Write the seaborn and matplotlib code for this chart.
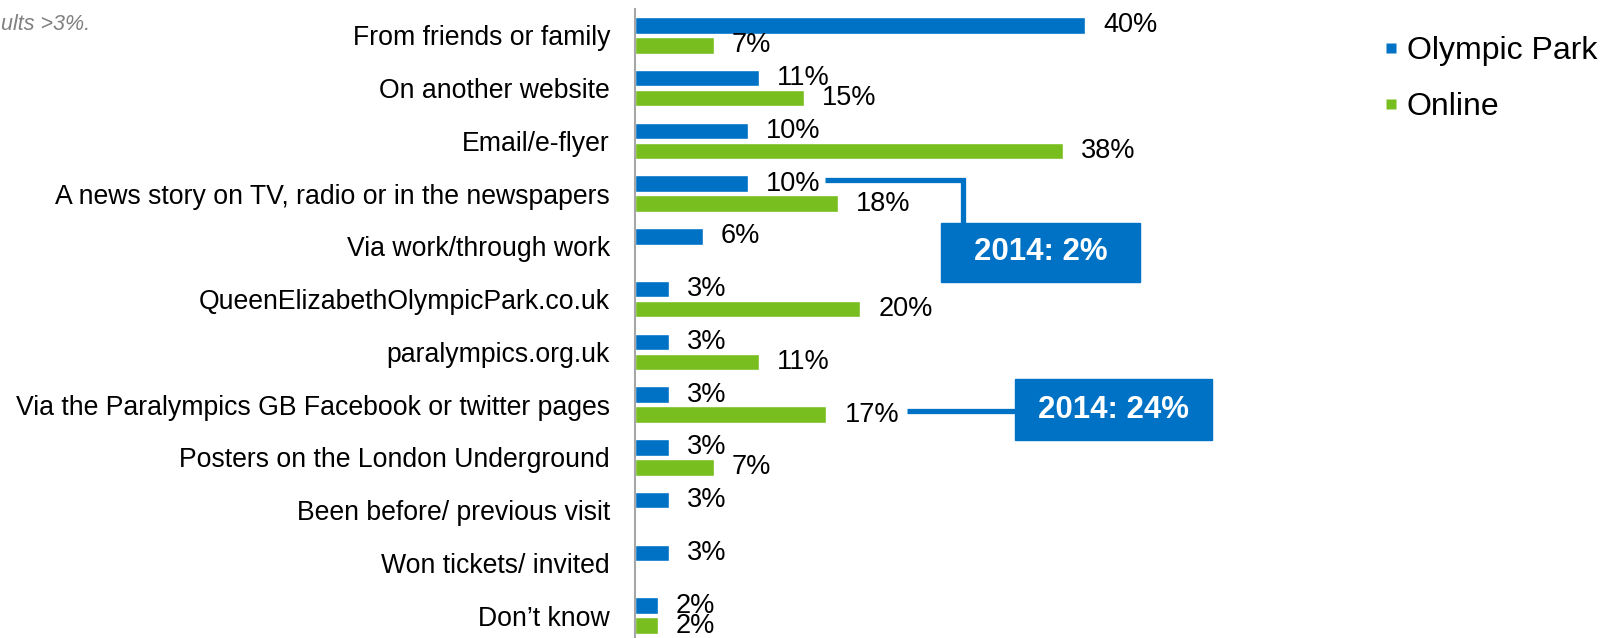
import numpy as np
import pandas as pd
import seaborn as sns
import matplotlib.pyplot as plt
from matplotlib.patches import Rectangle
from matplotlib.lines import Line2D

# data
categories = ['From friends or family', 'On another website', 'Email/e-flyer',
              'A news story on TV, radio or in the newspapers', 'Via work/through work',
              'QueenElizabethOlympicPark.co.uk', 'paralympics.org.uk',
              'Via the Paralympics GB Facebook or twitter pages',
              'Posters on the London Underground', 'Been before/ previous visit',
              'Won tickets/ invited', 'Don\u2019t know']
olympic_park = [40, 11, 10, 10, 6, 3, 3, 3, 3, 3, 3, 2]
online = [7, 15, 38, 18, np.nan, 20, 11, 17, 7, np.nan, np.nan, 2]
series = ['Olympic Park', 'Online']
callouts = ['2014: 2%', '2014: 24%']

BLUE = '#0072C6'
GREEN = '#78BE1E'

df = pd.DataFrame({
    'source': categories * 2,
    'series': [series[0]] * len(categories) + [series[1]] * len(categories),
    'pct': olympic_park + online,
})

sns.set_style('white')
plt.rcParams['font.family'] = ['Liberation Sans', 'DejaVu Sans']
plt.rcParams['text.color'] = 'black'
plt.rcParams['ytick.labelcolor'] = 'black'

W, H = 1601, 638
fig = plt.figure(figsize=(W / 100, H / 100), dpi=100)
ax = fig.add_axes([635 / W, -4 / H, 563 / W, 633 / H])

sns.barplot(data=df, y='source', x='pct', hue='series', order=categories,
            hue_order=series, palette=[BLUE, GREEN], saturation=1, orient='h',
            width=0.76, gap=0.18, errorbar=None, ax=ax, legend=False)

ax.set_xlim(0, 50)
ax.set_ylim(len(categories) - 0.5, -0.5)

for c in ax.containers:
    vals = c.datavalues
    labels = ['' if np.isnan(v) else f'{v:.0f}%' for v in vals]
    ax.bar_label(c, labels=labels, padding=13, fontsize=19.5, color='black')

# axis cosmetics
for s in ['top', 'right', 'bottom']:
    ax.spines[s].set_visible(False)
ax.spines['left'].set_color('#A6A6A6')
ax.spines['left'].set_linewidth(1.5)
ax.set_xticks([])
ax.set_xlabel('')
ax.set_ylabel('')
ax.tick_params(axis='y', which='major', length=0, pad=18, labelsize=19.2)
ax.set_yticks(np.arange(len(categories) - 1) + 0.5, minor=True)
ax.tick_params(axis='y', which='minor', length=7, width=1.5, color='#A6A6A6', direction='out')

# legend with small square markers
handles = [Line2D([], [], ls='none', marker='s', ms=6.5, mec='none', mfc=BLUE),
           Line2D([], [], ls='none', marker='s', ms=6.5, mec='none', mfc=GREEN)]
fig.legend(handles, series, loc='upper left', bbox_to_anchor=(1383 / W, 1 - 36 / H),
           frameon=False, fontsize=23, handlelength=0.5, handletextpad=0.25,
           labelspacing=0.82, borderpad=0, borderaxespad=0)

# 2014 call-out boxes
def px(x, y):
    return x / W, 1 - y / H

boxes = [(941, 223, 199, 59), (1015, 379, 197, 61)]
for (x0, y0, bw, bh), txt in zip(boxes, callouts):
    fig.patches.append(Rectangle(px(x0, y0 + bh), bw / W, bh / H, color=BLUE,
                                 transform=fig.transFigure, zorder=3))
    fig.text(*px(x0 + bw / 2, y0 + bh / 2), txt, color='white', fontsize=22.5,
             fontweight='bold', ha='center', va='center', zorder=4)

lines = [([825, 963, 963], [180, 180, 223]), ([907, 1015], [411, 411])]
for xs, ys in lines:
    fig.lines.append(Line2D([x / W for x in xs], [1 - y / H for y in ys], color=BLUE,
                            lw=3.8, transform=fig.transFigure, zorder=3,
                            solid_joinstyle='miter', solid_capstyle='butt'))

# visible part of the base note in the top left corner
fig.text(*px(1, 24), 'ults >3%.', ha='left', va='center', fontsize=15.5,
         style='italic', color='#808080')

fig.savefig('out.png', dpi=100)
